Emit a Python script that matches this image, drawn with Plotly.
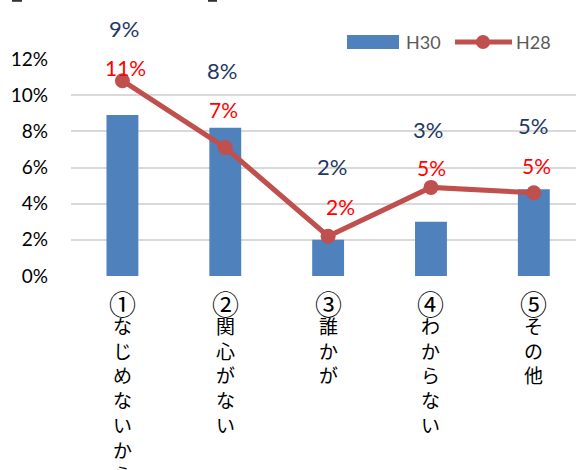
import plotly.graph_objects as go

# Survey categories (vertical labels) and shares per survey year
categories = ["①なじめないから", "②関心がない", "③誰かが", "④わからない", "⑤その他"]
h30_values = [0.089, 0.082, 0.020, 0.030, 0.048]
h28_values = [0.108, 0.071, 0.022, 0.049, 0.046]
y_ticks = [0, 0.02, 0.04, 0.06, 0.08, 0.10, 0.12]
series_names = ["H30", "H28"]

# Label placement (pixels): vertical lift above the mark and small horizontal nudge
h30_label_lift = [87, 57, 73, 92, 64]
h30_label_nudge = [2, -3, 4, -3, -1]
h28_label_lift = [13, 38, 30, 20, 27]
h28_label_nudge = [3, -2, 12, 1, 3]

BAR_COLOR = "#4F81BD"
LINE_COLOR = "#C0504D"
NUM_FONT = "Lato"
JP_FONT = "Noto Sans CJK JP"

W, H = 576, 470
L, R, T, B = 71, 0, 59, 194
plot_w, plot_h = W - L - R, H - T - B

def px_x(px):
    return (px - L) / plot_w

def px_y(py):
    return (H - B - py) / plot_h

xs = list(range(len(categories)))

fig = go.Figure()
fig.add_trace(go.Bar(
    x=xs, y=h30_values, name=series_names[0],
    marker=dict(color=BAR_COLOR, line=dict(width=0)),
    width=0.31, showlegend=False,
))
fig.add_trace(go.Scatter(
    x=xs, y=h28_values, name=series_names[1], mode="lines+markers",
    line=dict(color=LINE_COLOR, width=5),
    marker=dict(color=LINE_COLOR, size=15),
    showlegend=False, cliponaxis=False,
))

annotations = []
for i, v in enumerate(h30_values):
    annotations.append(dict(
        x=xs[i], y=v, xref="x", yref="y", text=f"{v:.0%}", showarrow=False,
        font=dict(family=NUM_FONT, size=22, color="#1F3864"),
        xanchor="center", yanchor="middle",
        xshift=h30_label_nudge[i], yshift=h30_label_lift[i],
    ))
for i, v in enumerate(h28_values):
    annotations.append(dict(
        x=xs[i], y=v, xref="x", yref="y", text=f"{v:.0%}", showarrow=False,
        font=dict(family=NUM_FONT, size=21, color="#FF0000"),
        xanchor="center", yanchor="middle",
        xshift=h28_label_nudge[i], yshift=h28_label_lift[i],
    ))

# Vertical category labels: the circled number on top, then one character per line
for i, c in enumerate(categories):
    annotations.append(dict(
        x=xs[i], y=px_y(303), xref="x", yref="paper",
        text=c[0], showarrow=False,
        font=dict(family=JP_FONT, size=27, color="#000000"),
        xanchor="center", yanchor="middle",
    ))
    annotations.append(dict(
        x=xs[i], y=px_y(310), xref="x", yref="paper",
        text="<br>".join(list(c[1:])), showarrow=False,
        font=dict(family=JP_FONT, size=19, color="#000000"),
        xanchor="center", yanchor="top", align="center",
    ))

# Legend drawn by hand
legend_font = dict(family=NUM_FONT, size=18, color="#595959")
annotations.append(dict(
    x=px_x(404), y=px_y(42), xref="paper", yref="paper", text=series_names[0],
    showarrow=False, font=legend_font, xanchor="left", yanchor="middle",
))
annotations.append(dict(
    x=px_x(514), y=px_y(42), xref="paper", yref="paper", text=series_names[1],
    showarrow=False, font=legend_font, xanchor="left", yanchor="middle",
))

shapes = [
    dict(type="rect", xref="paper", yref="paper",
         x0=px_x(347), x1=px_x(399), y0=px_y(49), y1=px_y(35),
         fillcolor=BAR_COLOR, line=dict(width=0)),
    dict(type="line", xref="paper", yref="paper",
         x0=px_x(455), x1=px_x(512), y0=px_y(42), y1=px_y(42),
         line=dict(color=LINE_COLOR, width=5)),
    dict(type="circle", xref="paper", yref="paper",
         x0=px_x(476), x1=px_x(490), y0=px_y(49), y1=px_y(35),
         fillcolor=LINE_COLOR, line=dict(width=0)),
    # fragments of the title brackets along the top edge
    dict(type="line", xref="paper", yref="paper",
         x0=px_x(12), x1=px_x(22), y0=px_y(0.8), y1=px_y(0.8),
         line=dict(color="#333333", width=2)),
    dict(type="line", xref="paper", yref="paper",
         x0=px_x(208), x1=px_x(217), y0=px_y(0.8), y1=px_y(0.8),
         line=dict(color="#333333", width=2)),
]

fig.update_layout(
    width=W, height=H,
    margin=dict(l=L, r=R, t=T, b=B, pad=0),
    paper_bgcolor="white", plot_bgcolor="white",
    annotations=annotations, shapes=shapes,
    showlegend=False, bargap=0.69,
)
fig.update_xaxes(
    range=[-0.5, 4.41], showticklabels=False, showgrid=False,
    zeroline=False, showline=False, ticks="",
)
fig.update_yaxes(
    range=[0, 0.12], tickvals=y_ticks, tickformat=".0%",
    showgrid=True, gridcolor="#D9D9D9", gridwidth=1.5,
    zeroline=False, showline=False, ticks="",
    ticklabelstandoff=22,
    tickfont=dict(family=NUM_FONT, size=19, color="#000000"),
)

fig.write_html("out.html")
